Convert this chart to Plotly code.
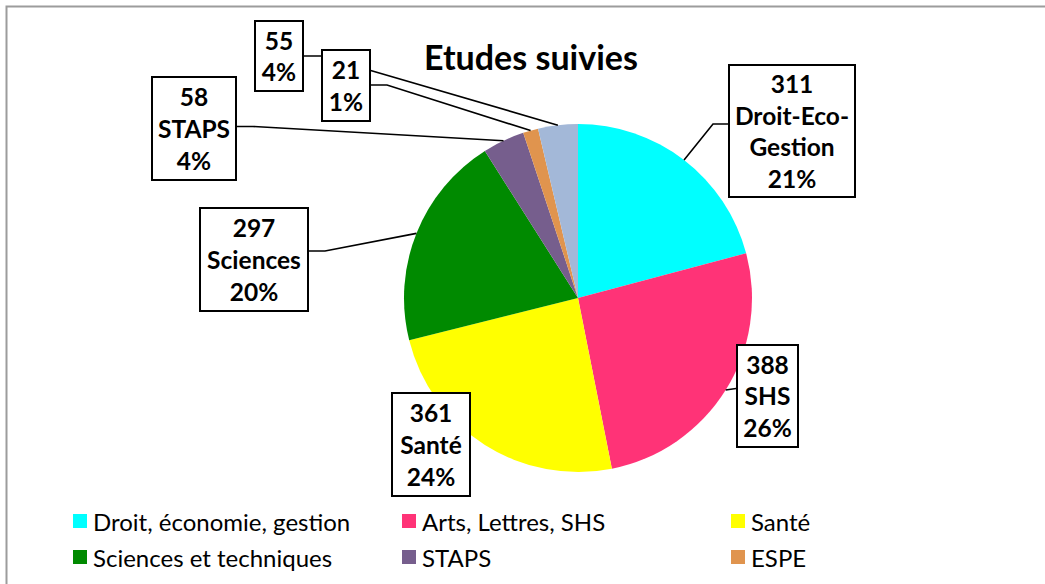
import math
import plotly.graph_objects as go

# ---------------- data ----------------
categories = ["Droit, économie, gestion", "Arts, Lettres, SHS", "Santé",
              "Sciences et techniques", "STAPS", "ESPE", "Autres"]
values = [311, 388, 361, 297, 58, 21, 55]
short_names = ["Droit-Eco-<br>Gestion", "SHS", "Santé", "Sciences", "STAPS", "", ""]
colors = ["#00FFFF", "#FF3377", "#FFFF00", "#008A00", "#765E8D", "#E0944E", "#A3B8D8"]
legend_shown = [True, True, True, True, True, True, False]

W, H = 1045, 584
FONT = "Lato"

# pie geometry (pixels)
CX, CY, R = 578, 298, 174


def px(x):
    return x / W


def py(y):
    return 1 - y / H


fig = go.Figure()
fig.add_trace(go.Pie(
    labels=categories, values=values, sort=False, direction="clockwise",
    rotation=0, marker=dict(colors=colors, line=dict(width=0)),
    textinfo="none", hoverinfo="label+value+percent", showlegend=False,
    domain=dict(x=[px(CX - R), px(CX + R)], y=[py(CY + R), py(CY - R)]),
))

total = sum(values)
cum = 0
mid_pts = []
for v in values:
    mid = (cum + v / 2) / total
    ang = 2 * math.pi * mid
    mid_pts.append((CX + R * math.sin(ang), CY - R * math.cos(ang)))
    cum += v

# label boxes: (left, top, width, height) in px ; leader: start point, elbow
boxes = [
    (728, 64, 128, 134),
    (736, 344, 63, 104),
    (391, 392, 80, 105),
    (199, 207, 110, 105),
    (151, 76, 86, 105),
    (321, 49, 50, 73),
    (254, 20, 50, 72),
]
leaders = [
    ((728, 124), (713, 124)),
    ((736, 388.5), None),
    None,
    ((309, 251), (325, 251)),
    ((237, 126.5), (253, 126.5)),
    ((371, 85), (387, 85)),
    ((304, 56), (321, 56)),
]

shapes = []
for i, ld in enumerate(leaders):
    if ld is None:
        continue
    start, elbow = ld
    end = mid_pts[i]
    pts = [start] + ([elbow] if elbow else []) + [end]
    path = "M" + " L".join(f"{px(x):.5f},{py(y):.5f}" for x, y in pts)
    shapes.append(dict(type="path", xref="paper", yref="paper", path=path,
                       line=dict(color="black", width=1.6), layer="above"))

# outer chart border (right and bottom edges fall outside the picture)
shapes.append(dict(type="rect", xref="paper", yref="paper",
                   x0=px(6.5), x1=px(W + 60), y0=py(6.5), y1=py(H + 60),
                   line=dict(color="#9C9C9C", width=2), layer="below"))

annotations = []
for i, (l, t, bw, bh) in enumerate(boxes):
    pct = round(100 * values[i] / total)
    parts = [str(values[i])]
    if short_names[i]:
        parts.append(short_names[i])
    parts.append(f"{pct}%")
    annotations.append(dict(
        xref="paper", yref="paper", x=px(l), y=py(t), xanchor="left", yanchor="top",
        text="<b>" + "<br>".join(parts) + "</b>", showarrow=False,
        width=bw - 4, height=bh - 4, bordercolor="black", borderwidth=2, borderpad=0,
        bgcolor="white", align="center", valign="middle",
        font=dict(family=FONT, size=24.5, color="black"),
    ))

# manual legend (third row is cut off in the original)
col_x = [73, 402, 731]
row_y = [521, 557]
k = 0
for i, cat in enumerate(categories):
    if not legend_shown[i]:
        continue
    cx = col_x[k % 3]
    cy = row_y[k // 3]
    shapes.append(dict(type="rect", xref="paper", yref="paper",
                       x0=px(cx), x1=px(cx + 14), y0=py(cy - 7), y1=py(cy + 7),
                       fillcolor=colors[i], line=dict(width=0), layer="above"))
    annotations.append(dict(xref="paper", yref="paper", x=px(cx + 18), y=py(cy),
                            xanchor="left", yanchor="middle", text=cat, showarrow=False,
                            font=dict(family=FONT, size=24, color="black")))
    k += 1

fig.update_layout(
    width=W, height=H, margin=dict(l=0, r=0, t=0, b=0),
    paper_bgcolor="white", plot_bgcolor="white",
    title=dict(text="<b>Etudes suivies</b>", x=px(531), xanchor="center",
               y=py(58), yanchor="middle",
               font=dict(family=FONT, size=34, color="black")),
    shapes=shapes, annotations=annotations, showlegend=False,
)

fig.write_html("out.html", config={"displayModeBar": False},
               post_script="document.body.style.margin='0';document.body.style.overflow='hidden';")
